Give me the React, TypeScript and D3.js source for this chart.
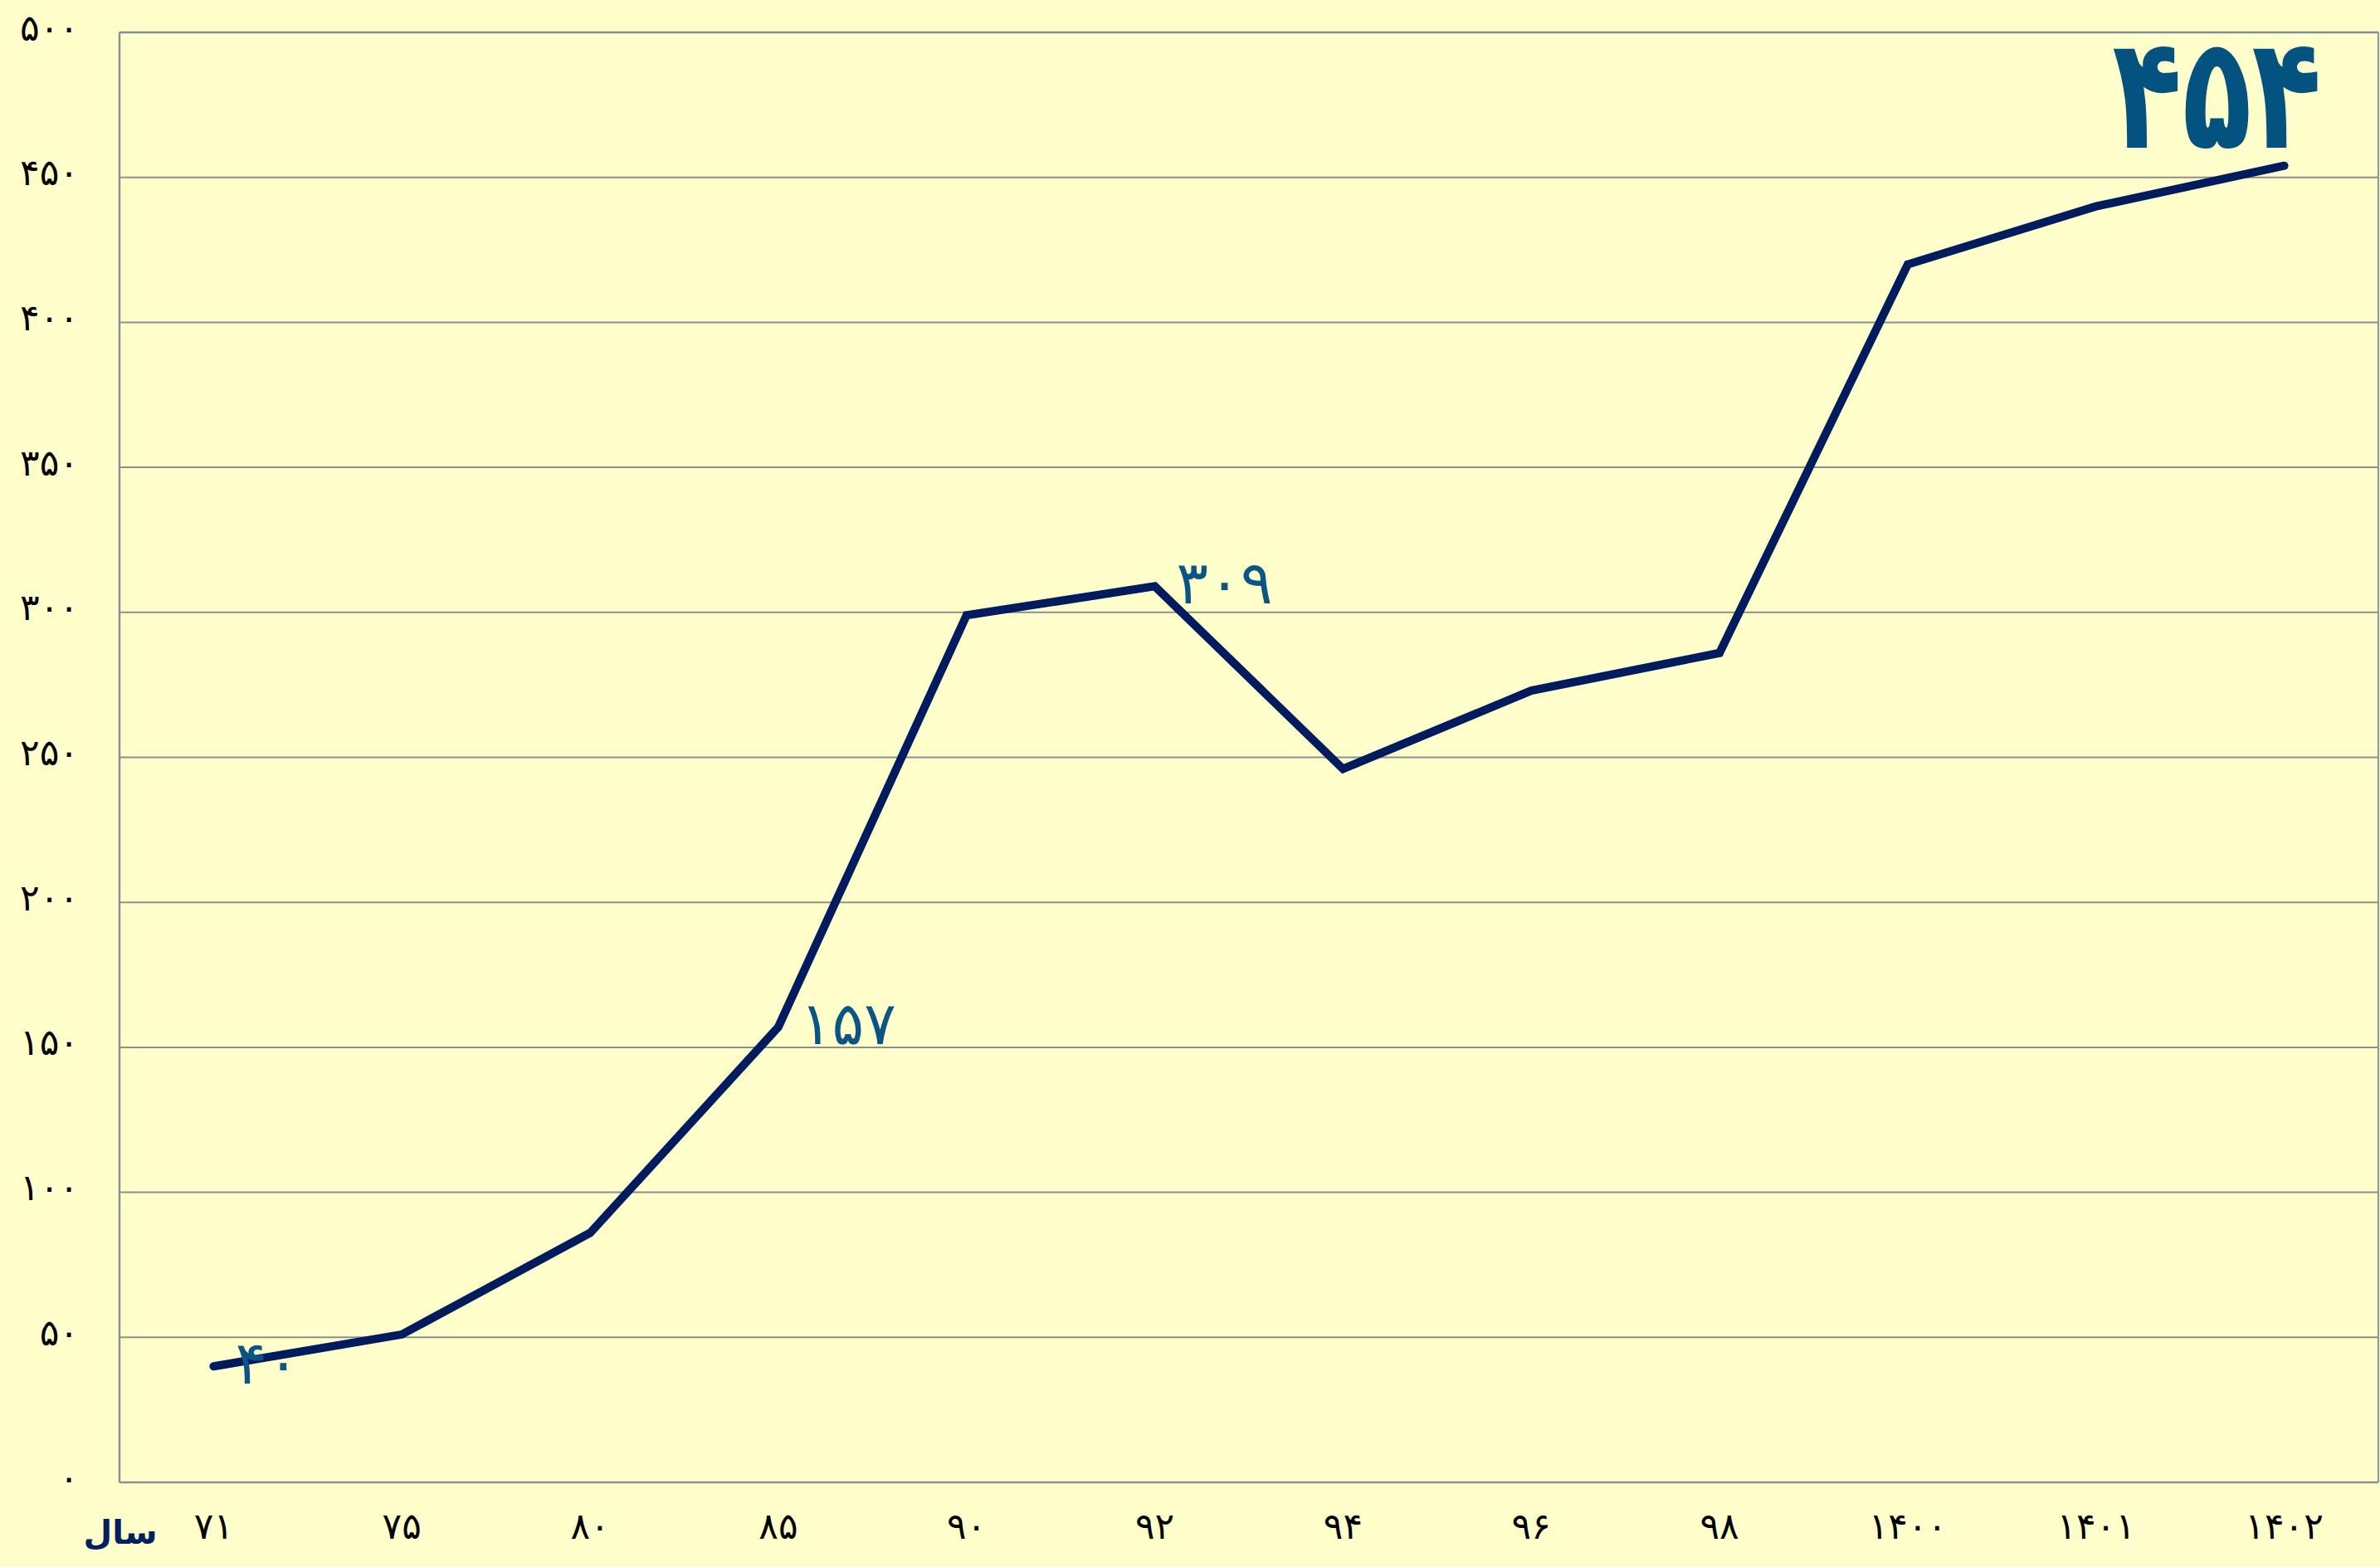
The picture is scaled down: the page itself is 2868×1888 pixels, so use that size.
import { useEffect } from 'react'
import { line, scaleLinear, scalePoint } from 'd3'

const WIDTH = 2868
const HEIGHT = 1888
const LEFT = 144
const RIGHT = 2866
const TOP = 39
const BOTTOM = 1786

const years = ['71', '75', '80', '85', '90', '92', '94', '96', '98', '1400', '1401', '1402']
const values = [40, 51, 86, 157, 299, 309, 246, 273, 286, 420, 440, 454]
const labelledYears = ['71', '85', '92']
const headlineYear = '1402'
const yTicks = [0, 50, 100, 150, 200, 250, 300, 350, 400, 450, 500]
const axisTitle = 'سال'

const FA_DIGITS = '۰۱۲۳۴۵۶۷۸۹'
const toFa = (s: string | number) => String(s).replace(/[0-9]/g, (d) => FA_DIGITS[+d])

type Point = { year: string; value: number }
const points: Point[] = years.map((year, i) => ({ year, value: values[i] }))

export default function App() {
  useEffect(() => {
    document.body.style.margin = '0'
    document.body.style.background = '#ffffcc'
  }, [])

  const x = scalePoint<string>().domain(years).range([LEFT, RIGHT]).padding(0.5)
  const y = scaleLinear().domain([0, 500]).range([BOTTOM, TOP])

  const path = line<Point>()
    .x((d) => x(d.year) ?? 0)
    .y((d) => y(d.value))

  const last = points.find((p) => p.year === headlineYear)!
  const lastX = (x(last.year) ?? 0) + 45
  const lastY = y(last.value) - 22

  return (
    <svg
      width={WIDTH}
      height={HEIGHT}
      viewBox={`0 0 ${WIDTH} ${HEIGHT}`}
      style={{ position: 'fixed', left: 0, top: 0, display: 'block' }}
      fontFamily="'DejaVu Sans', sans-serif"
    >
      <rect width={WIDTH} height={HEIGHT} fill="#ffffcc" />

      {/* grid */}
      {yTicks.map((t) => (
        <line key={t} x1={LEFT} x2={RIGHT} y1={y(t)} y2={y(t)} stroke="#8e8e8e" strokeWidth={2} />
      ))}
      <line x1={LEFT} x2={LEFT} y1={TOP} y2={BOTTOM} stroke="#8e8e8e" strokeWidth={2.5} />
      <line x1={RIGHT} x2={RIGHT} y1={TOP} y2={BOTTOM} stroke="#8a97a3" strokeWidth={2} />
      <line x1={LEFT} x2={RIGHT} y1={TOP} y2={TOP} stroke="#7f8e9c" strokeWidth={2.5} />
      <line x1={LEFT} x2={RIGHT} y1={BOTTOM} y2={BOTTOM} stroke="#8e8e8e" strokeWidth={2.5} />

      {/* y tick labels */}
      {yTicks.map((t) => (
        <text key={t} x={95} y={y(t) - 6} textAnchor="end" dominantBaseline="central" fontSize={44} fill="#000">
          {toFa(t)}
        </text>
      ))}

      {/* x tick labels */}
      {years.map((yr) => (
        <text key={yr} x={x(yr)} y={1838} textAnchor="middle" dominantBaseline="central" fontSize={44} fill="#000">
          {toFa(yr)}
        </text>
      ))}
      <text x={145} y={1846} textAnchor="middle" dominantBaseline="central" fontSize={40} fontWeight="bold" fill="#002060">
        {axisTitle}
      </text>

      {/* series */}
      <path d={path(points) ?? ''} fill="none" stroke="#001c5e" strokeWidth={10} strokeLinejoin="miter" strokeLinecap="round" />

      {/* data labels */}
      {points
        .filter((p) => labelledYears.includes(p.year))
        .map((p) => (
          <text
            key={p.year}
            x={(x(p.year) ?? 0) + 26}
            y={y(p.value) - 4}
            dominantBaseline="central"
            fontSize={72}
            fill="#0b5584"
          >
            {toFa(p.value)}
          </text>
        ))}
      <text
        transform={`translate(${lastX},${lastY}) scale(0.82,1.12)`}
        textAnchor="end"
        fontSize={168}
        fontWeight="bold"
        fill="#04527f"
      >
        {toFa(last.value)}
      </text>
    </svg>
  )
}
